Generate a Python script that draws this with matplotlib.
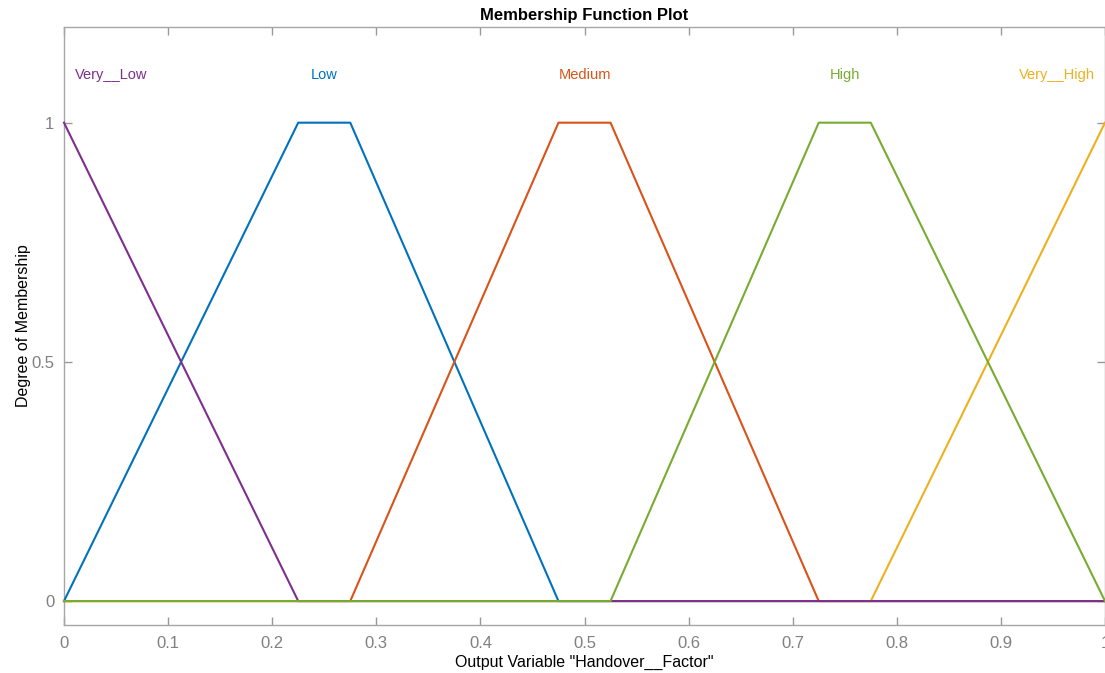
import matplotlib.pyplot as plt

plt.rcParams['font.family'] = ['Liberation Sans', 'DejaVu Sans']

# membership function breakpoints (x) and membership degrees (y)
names = ['Very__Low', 'Low', 'Medium', 'High', 'Very__High']
mf_x = [[0, 0.225, 1.0],
        [0, 0.225, 0.275, 0.475, 1.0],
        [0, 0.275, 0.475, 0.525, 0.725, 1.0],
        [0, 0.525, 0.725, 0.775, 1.0],
        [0, 0.775, 1.0]]
mf_y = [[1, 0, 0],
        [0, 1, 1, 0, 0],
        [0, 0, 1, 1, 0, 0],
        [0, 0, 1, 1, 0],
        [0, 0, 1]]
label_x = [0.045, 0.25, 0.5, 0.75, 0.954]
colors = ['#7E2F8E', '#0072BD', '#D95319', '#77AC30', '#EDB120']
zorders = [4, 3, 3, 5, 3]

fig = plt.figure(figsize=(11.05, 6.73), dpi=100)
ax = fig.add_axes([64/1105, 48/673, 1041/1105, 598/673])

for i in range(len(names)):
    ax.plot(mf_x[i], mf_y[i], color=colors[i], lw=1.5, zorder=zorders[i], clip_on=False)
    ax.text(label_x[i], 1.1, names[i], color=colors[i], ha='center', va='center', fontsize=10.5)

ax.set_xlim(0, 1)
ax.set_ylim(-0.05, 1.2)
ax.set_xticks([0, 0.1, 0.2, 0.3, 0.4, 0.5, 0.6, 0.7, 0.8, 0.9, 1])
ax.set_xticklabels(['0', '0.1', '0.2', '0.3', '0.4', '0.5', '0.6', '0.7', '0.8', '0.9', '1'])
ax.set_yticks([0, 0.5, 1])
ax.set_yticklabels(['0', '0.5', '1'])
ax.tick_params(direction='in', top=True, right=True, colors='#999999', labelcolor='#808080',
               labelsize=12, length=6, width=1)
ax.tick_params(axis='x', pad=8)
ax.tick_params(axis='y', pad=7)
for s in ax.spines.values():
    s.set_color('#a6a6a6')
    s.set_linewidth(1)

ax.set_xlabel('Output Variable "Handover__Factor"', fontsize=11.5, labelpad=3)
ax.set_ylabel('Degree of Membership', fontsize=11.5, labelpad=0)
ax.set_title('Membership Function Plot', fontsize=12, fontweight='bold', pad=5)

fig.savefig('out.png', dpi=100)
